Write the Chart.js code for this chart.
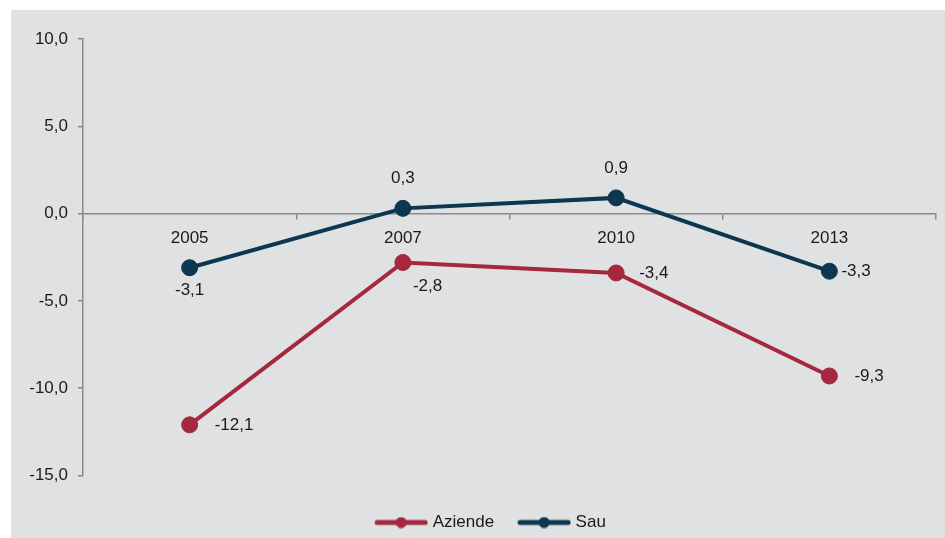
<!DOCTYPE html>
<html>
<head>
<meta charset="utf-8">
<script src="https://cdn.jsdelivr.net/npm/chart.js@4/dist/chart.umd.min.js"></script>
<style>
  body { margin: 0; background: #ffffff; }
  #wrap { position: absolute; left: 11px; top: 10px; width: 934px; height: 528px; background: #e0e1e3; }
</style>
</head>
<body>
<div id="wrap"><canvas id="chart"></canvas></div>
<script>
// years and the two series (variazione %)
const years = ['2005', '2007', '2010', '2013'];
const aziende = [-12.1, -2.8, -3.4, -9.3];
const sau = [-3.1, 0.3, 0.9, -3.3];
const yTicks = { min: -15, max: 10, step: 5 };

const colAziende = '#a5283f';
const colSau = '#0d3650';
const axisGray = '#8a8a8a';
const textCol = '#1a1a1a';

// where each value label sits around its point: [dx, dy, align]
const aziendeLabelPos = [[25, 0, 'left'], [10, 24, 'left'], [23, 0, 'left'], [25, 0, 'left']];
const sauLabelPos = [[0, 23, 'center'], [0, -30, 'center'], [0, -30, 'center'], [12, 0, 'left']];

const fmt = v => v.toFixed(1).replace('.', ',');

// legend marker: a short line with a dot in the middle
function legendMarker(color) {
  const c = document.createElement('canvas');
  c.width = 54; c.height = 12;
  const g = c.getContext('2d');
  g.strokeStyle = color;
  g.lineWidth = 5;
  g.lineCap = 'round';
  g.beginPath(); g.moveTo(3, 6); g.lineTo(51, 6); g.stroke();
  g.fillStyle = color;
  g.beginPath(); g.arc(27, 6, 5.5, 0, Math.PI * 2); g.fill();
  return c;
}

// draws the value next to every point
const valueLabels = {
  id: 'valueLabels',
  afterLayout(chart) {
    // legend sits a bit right of the canvas centre
    chart.legend.left = 36;
  },
  afterDatasetsDraw(chart) {
    const ctx = chart.ctx;
    ctx.save();
    ctx.font = '17px "Liberation Sans", Arial, sans-serif';
    ctx.fillStyle = textCol;
    ctx.textBaseline = 'middle';
    chart.data.datasets.forEach((ds, i) => {
      const meta = chart.getDatasetMeta(i);
      meta.data.forEach((pt, j) => {
        const p = ds.labelPos[j];
        ctx.textAlign = p[2];
        ctx.fillText(fmt(ds.data[j]), pt.x + p[0], pt.y + p[1]);
      });
    });
    ctx.restore();
  }
};

Chart.defaults.font.family = '"Liberation Sans", Arial, sans-serif';
Chart.defaults.font.size = 17;
Chart.defaults.color = textCol;

new Chart(document.getElementById('chart'), {
  type: 'line',
  data: {
    labels: years,
    datasets: [
      {
        label: 'Aziende',
        data: aziende,
        labelPos: aziendeLabelPos,
        borderColor: colAziende,
        backgroundColor: colAziende,
        borderWidth: 4,
        pointRadius: 8,
        pointBorderWidth: 1,
        tension: 0
      },
      {
        label: 'Sau',
        data: sau,
        labelPos: sauLabelPos,
        borderColor: colSau,
        backgroundColor: colSau,
        borderWidth: 4,
        pointRadius: 8,
        pointBorderWidth: 1,
        tension: 0
      }
    ]
  },
  options: {
    responsive: true,
    maintainAspectRatio: false,
    animation: false,
    layout: { padding: { left: 0, right: 8, top: 29, bottom: -3 } },
    scales: {
      x: {
        position: { y: 0 },
        offset: true,
        grid: { offset: true, drawOnChartArea: false, drawTicks: true, tickLength: 5, color: axisGray, lineWidth: 1.5 },
        border: { color: axisGray, width: 1.5 },
        ticks: { padding: 10, maxRotation: 0 }
      },
      y: {
        min: yTicks.min,
        max: yTicks.max,
        afterFit: s => { s.width = 72; },
        grid: { drawOnChartArea: false, drawTicks: true, tickLength: 5, color: axisGray, lineWidth: 1.5 },
        border: { color: axisGray, width: 1.5 },
        ticks: { stepSize: yTicks.step, padding: 10, callback: v => fmt(v) }
      }
    },
    plugins: {
      tooltip: { enabled: false },
      legend: {
        position: 'bottom',
        title: { display: true, text: '', font: { size: 10, lineHeight: 1 }, padding: { top: 1.5, bottom: 0 } },
        labels: {
          usePointStyle: true,
          pointStyleWidth: 46,
          padding: 27,
          color: textCol,
          font: { size: 17 },
          generateLabels: chart => chart.data.datasets.map((ds, i) => ({
            text: ds.label,
            pointStyle: legendMarker(ds.borderColor),
            fillStyle: ds.borderColor,
            strokeStyle: ds.borderColor,
            lineWidth: 0,
            fontColor: textCol,
            datasetIndex: i
          }))
        }
      }
    }
  },
  plugins: [valueLabels]
});
</script>
</body>
</html>
